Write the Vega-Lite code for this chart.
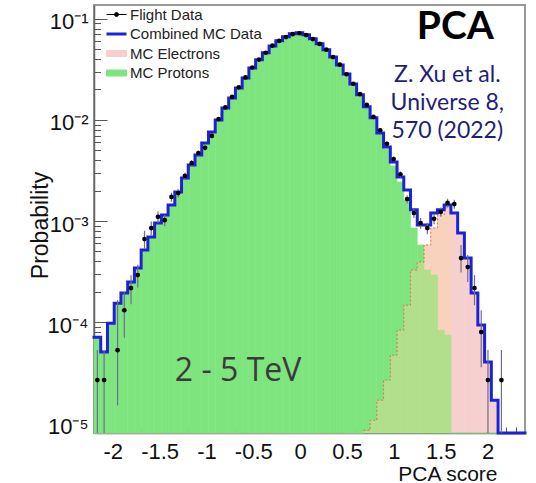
{
  "$schema": "https://vega.github.io/schema/vega-lite/v6.json",
  "width": 431,
  "height": 428,
  "autosize": "none",
  "padding": {"left": 94, "top": 5, "right": 11, "bottom": 50},
  "background": "white",
  "config": {
    "view": {"stroke": "#999999", "strokeWidth": 2},
    "axis": {"grid": false}
  },
  "datasets": {
    "bins": [
      {"lo": -2.2, "hi": -2.128125, "p": 7.10e-5, "e": 0, "mc": 7.10e-5},
      {"lo": -2.128125, "hi": -2.05625, "p": 5.05e-5, "e": 0, "mc": 5.05e-5},
      {"lo": -2.05625, "hi": -1.984375, "p": 9.77e-5, "e": 0, "mc": 9.77e-5},
      {"lo": -1.984375, "hi": -1.9125, "p": 1.54e-4, "e": 0, "mc": 1.54e-4},
      {"lo": -1.9125, "hi": -1.840625, "p": 1.94e-4, "e": 0, "mc": 1.94e-4},
      {"lo": -1.840625, "hi": -1.76875, "p": 2.49e-4, "e": 0, "mc": 2.49e-4},
      {"lo": -1.76875, "hi": -1.696875, "p": 3.42e-4, "e": 0, "mc": 3.42e-4},
      {"lo": -1.696875, "hi": -1.625, "p": 5.16e-4, "e": 0, "mc": 5.16e-4},
      {"lo": -1.625, "hi": -1.553125, "p": 6.94e-4, "e": 0, "mc": 6.94e-4},
      {"lo": -1.553125, "hi": -1.48125, "p": 9.55e-4, "e": 0, "mc": 9.55e-4},
      {"lo": -1.48125, "hi": -1.409375, "p": 1.15e-3, "e": 0, "mc": 1.15e-3},
      {"lo": -1.409375, "hi": -1.3375, "p": 1.44e-3, "e": 0, "mc": 1.44e-3},
      {"lo": -1.3375, "hi": -1.265625, "p": 1.94e-3, "e": 0, "mc": 1.94e-3},
      {"lo": -1.265625, "hi": -1.19375, "p": 2.66e-3, "e": 0, "mc": 2.66e-3},
      {"lo": -1.19375, "hi": -1.121875, "p": 3.58e-3, "e": 0, "mc": 3.58e-3},
      {"lo": -1.121875, "hi": -1.05, "p": 4.50e-3, "e": 0, "mc": 4.50e-3},
      {"lo": -1.05, "hi": -0.978125, "p": 5.92e-3, "e": 0, "mc": 5.92e-3},
      {"lo": -0.978125, "hi": -0.90625, "p": 7.61e-3, "e": 0, "mc": 7.61e-3},
      {"lo": -0.90625, "hi": -0.834375, "p": 1.00e-2, "e": 0, "mc": 1.00e-2},
      {"lo": -0.834375, "hi": -0.7625, "p": 1.31e-2, "e": 0, "mc": 1.31e-2},
      {"lo": -0.7625, "hi": -0.690625, "p": 1.65e-2, "e": 0, "mc": 1.65e-2},
      {"lo": -0.690625, "hi": -0.61875, "p": 2.07e-2, "e": 0, "mc": 2.07e-2},
      {"lo": -0.61875, "hi": -0.546875, "p": 2.60e-2, "e": 0, "mc": 2.60e-2},
      {"lo": -0.546875, "hi": -0.475, "p": 3.27e-2, "e": 0, "mc": 3.27e-2},
      {"lo": -0.475, "hi": -0.403125, "p": 3.93e-2, "e": 0, "mc": 3.93e-2},
      {"lo": -0.403125, "hi": -0.33125, "p": 4.61e-2, "e": 0, "mc": 4.61e-2},
      {"lo": -0.33125, "hi": -0.259375, "p": 5.40e-2, "e": 0, "mc": 5.40e-2},
      {"lo": -0.259375, "hi": -0.1875, "p": 6.06e-2, "e": 0, "mc": 6.06e-2},
      {"lo": -0.1875, "hi": -0.115625, "p": 6.63e-2, "e": 0, "mc": 6.63e-2},
      {"lo": -0.115625, "hi": -0.04375, "p": 7.10e-2, "e": 0, "mc": 7.10e-2},
      {"lo": -0.04375, "hi": 0.028125, "p": 7.27e-2, "e": 0, "mc": 7.27e-2},
      {"lo": 0.028125, "hi": 0.1, "p": 6.94e-2, "e": 0, "mc": 6.94e-2},
      {"lo": 0.1, "hi": 0.171875, "p": 6.34e-2, "e": 0, "mc": 6.34e-2},
      {"lo": 0.171875, "hi": 0.24375, "p": 5.66e-2, "e": 0, "mc": 5.66e-2},
      {"lo": 0.24375, "hi": 0.315625, "p": 4.93e-2, "e": 0, "mc": 4.93e-2},
      {"lo": 0.315625, "hi": 0.3875, "p": 4.20e-2, "e": 0, "mc": 4.20e-2},
      {"lo": 0.3875, "hi": 0.459375, "p": 3.50e-2, "e": 0, "mc": 3.50e-2},
      {"lo": 0.459375, "hi": 0.53125, "p": 2.85e-2, "e": 0, "mc": 2.85e-2},
      {"lo": 0.53125, "hi": 0.603125, "p": 2.27e-2, "e": 0, "mc": 2.27e-2},
      {"lo": 0.603125, "hi": 0.675, "p": 1.77e-2, "e": 0, "mc": 1.77e-2},
      {"lo": 0.675, "hi": 0.746875, "p": 1.35e-2, "e": 8.5e-6, "mc": 1.35e-2},
      {"lo": 0.746875, "hi": 0.81875, "p": 1.05e-2, "e": 1.07e-5, "mc": 1.05e-2},
      {"lo": 0.81875, "hi": 0.890625, "p": 7.30e-3, "e": 1.69e-5, "mc": 7.44e-3},
      {"lo": 0.890625, "hi": 0.9625, "p": 5.16e-3, "e": 2.67e-5, "mc": 5.40e-3},
      {"lo": 0.9625, "hi": 1.034375, "p": 3.50e-3, "e": 4.71e-5, "mc": 3.84e-3},
      {"lo": 1.034375, "hi": 1.10625, "p": 2.43e-3, "e": 8.33e-5, "mc": 2.73e-3},
      {"lo": 1.10625, "hi": 1.178125, "p": 1.61e-3, "e": 1.47e-4, "mc": 2.03e-3},
      {"lo": 1.178125, "hi": 1.25, "p": 8.52e-4, "e": 3.27e-4, "mc": 1.29e-3},
      {"lo": 1.25, "hi": 1.321875, "p": 5.79e-4, "e": 3.93e-4, "mc": 9.13e-4},
      {"lo": 1.321875, "hi": 1.39375, "p": 3.27e-4, "e": 5.79e-4, "mc": 9.13e-4},
      {"lo": 1.39375, "hi": 1.465625, "p": 2.92e-4, "e": 8.52e-4, "mc": 1.20e-3},
      {"lo": 1.465625, "hi": 1.5375, "p": 8.33e-5, "e": 1.15e-3, "mc": 1.29e-3},
      {"lo": 1.5375, "hi": 1.609375, "p": 7.44e-5, "e": 1.35e-3, "mc": 1.44e-3},
      {"lo": 1.609375, "hi": 1.68125, "p": 0, "e": 1.20e-3, "mc": 1.20e-3},
      {"lo": 1.68125, "hi": 1.753125, "p": 0, "e": 7.61e-4, "mc": 7.61e-4},
      {"lo": 1.753125, "hi": 1.825, "p": 0, "e": 4.30e-4, "mc": 4.30e-4},
      {"lo": 1.825, "hi": 1.896875, "p": 0, "e": 1.94e-4, "mc": 1.94e-4},
      {"lo": 1.896875, "hi": 1.96875, "p": 0, "e": 9.34e-5, "mc": 9.34e-5},
      {"lo": 1.96875, "hi": 2.040625, "p": 0, "e": 4.02e-5, "mc": 4.02e-5},
      {"lo": 2.040625, "hi": 2.1125, "p": 0, "e": 1.69e-5, "mc": 1.69e-5},
      {"lo": 2.1125, "hi": 2.184375, "p": 0, "e": 0, "mc": 0},
      {"lo": 2.184375, "hi": 2.25625, "p": 0, "e": 0, "mc": 0},
      {"lo": 2.25625, "hi": 2.328125, "p": 0, "e": 0, "mc": 0},
      {"lo": 2.328125, "hi": 2.4, "p": 0, "e": 0, "mc": 0}
    ],
    "flight": [
      {"score": -2.1641, "prob": 2.67e-5, "err_lo": 5e-6, "err_hi": 5.3e-5},
      {"score": -2.0922, "prob": 2.67e-5, "err_lo": 5e-6, "err_hi": 5.3e-5},
      {"score": -1.9484, "prob": 5.28e-5, "err_lo": 1.5e-5, "err_hi": 1.65e-4},
      {"score": -1.8766, "prob": 1.31e-4, "err_lo": 7.0e-5, "err_hi": 2.0e-4},
      {"score": -1.8047, "prob": 2.17e-4, "err_lo": 1.5e-4, "err_hi": 2.9e-4},
      {"score": -1.7328, "prob": 2.92e-4, "err_lo": 2.2e-4, "err_hi": 3.7e-4},
      {"score": -1.6609, "prob": 6.63e-4, "err_lo": 5.3e-4, "err_hi": 8.0e-4},
      {"score": -1.5891, "prob": 8.52e-4, "err_lo": 7.2e-4, "err_hi": 9.9e-4},
      {"score": -1.5172, "prob": 1.10e-3, "err_lo": 9.6e-4, "err_hi": 1.24e-3},
      {"score": -1.4453, "prob": 1.02e-3, "err_lo": 8.9e-4, "err_hi": 1.15e-3},
      {"score": -1.3734, "prob": 1.73e-3, "err_lo": 1.55e-3, "err_hi": 1.91e-3},
      {"score": -1.3016, "prob": 1.89e-3, "err_lo": 1.71e-3, "err_hi": 2.07e-3},
      {"score": -1.2297, "prob": 2.80e-3, "err_lo": 2.59e-3, "err_hi": 3.01e-3},
      {"score": -1.1578, "prob": 3.75e-3, "err_lo": 3.51e-3, "err_hi": 3.99e-3},
      {"score": -1.0859, "prob": 4.71e-3, "err_lo": 4.44e-3, "err_hi": 4.98e-3},
      {"score": -1.0141, "prob": 5.30e-3, "err_lo": 5.01e-3, "err_hi": 5.59e-3},
      {"score": -0.9422, "prob": 6.95e-3, "err_lo": 6.62e-3, "err_hi": 7.28e-3},
      {"score": -0.8703, "prob": 1.02e-2, "err_lo": 9.8e-3, "err_hi": 1.06e-2},
      {"score": -0.7984, "prob": 1.33e-2, "err_lo": 1.28e-2, "err_hi": 1.38e-2},
      {"score": -0.7266, "prob": 1.69e-2, "err_lo": 1.64e-2, "err_hi": 1.74e-2},
      {"score": -0.6547, "prob": 2.10e-2, "err_lo": 2.05e-2, "err_hi": 2.15e-2},
      {"score": -0.5828, "prob": 2.63e-2, "err_lo": 2.57e-2, "err_hi": 2.69e-2},
      {"score": -0.5109, "prob": 3.30e-2, "err_lo": 3.23e-2, "err_hi": 3.37e-2},
      {"score": -0.4391, "prob": 3.95e-2, "err_lo": 3.88e-2, "err_hi": 4.02e-2},
      {"score": -0.3672, "prob": 4.62e-2, "err_lo": 4.54e-2, "err_hi": 4.70e-2},
      {"score": -0.2953, "prob": 5.42e-2, "err_lo": 5.33e-2, "err_hi": 5.51e-2},
      {"score": -0.2234, "prob": 6.05e-2, "err_lo": 5.96e-2, "err_hi": 6.14e-2},
      {"score": -0.1516, "prob": 6.60e-2, "err_lo": 6.50e-2, "err_hi": 6.70e-2},
      {"score": -0.0797, "prob": 7.05e-2, "err_lo": 6.95e-2, "err_hi": 7.15e-2},
      {"score": -0.0078, "prob": 7.20e-2, "err_lo": 7.10e-2, "err_hi": 7.30e-2},
      {"score": 0.0641, "prob": 6.90e-2, "err_lo": 6.80e-2, "err_hi": 7.00e-2},
      {"score": 0.1359, "prob": 6.30e-2, "err_lo": 6.20e-2, "err_hi": 6.40e-2},
      {"score": 0.2078, "prob": 5.65e-2, "err_lo": 5.56e-2, "err_hi": 5.74e-2},
      {"score": 0.2797, "prob": 4.95e-2, "err_lo": 4.87e-2, "err_hi": 5.03e-2},
      {"score": 0.3516, "prob": 4.18e-2, "err_lo": 4.11e-2, "err_hi": 4.25e-2},
      {"score": 0.4234, "prob": 3.52e-2, "err_lo": 3.45e-2, "err_hi": 3.59e-2},
      {"score": 0.4953, "prob": 2.83e-2, "err_lo": 2.77e-2, "err_hi": 2.89e-2},
      {"score": 0.5672, "prob": 2.28e-2, "err_lo": 2.22e-2, "err_hi": 2.34e-2},
      {"score": 0.6391, "prob": 1.80e-2, "err_lo": 1.75e-2, "err_hi": 1.85e-2},
      {"score": 0.7109, "prob": 1.41e-2, "err_lo": 1.36e-2, "err_hi": 1.46e-2},
      {"score": 0.7828, "prob": 1.07e-2, "err_lo": 1.03e-2, "err_hi": 1.11e-2},
      {"score": 0.8547, "prob": 7.9e-3, "err_lo": 7.5e-3, "err_hi": 8.3e-3},
      {"score": 0.9266, "prob": 5.8e-3, "err_lo": 5.5e-3, "err_hi": 6.1e-3},
      {"score": 0.9984, "prob": 4.1e-3, "err_lo": 3.85e-3, "err_hi": 4.35e-3},
      {"score": 1.0703, "prob": 2.9e-3, "err_lo": 2.7e-3, "err_hi": 3.1e-3},
      {"score": 1.1422, "prob": 1.65e-3, "err_lo": 1.50e-3, "err_hi": 1.80e-3},
      {"score": 1.2141, "prob": 1.20e-3, "err_lo": 1.07e-3, "err_hi": 1.33e-3},
      {"score": 1.2859, "prob": 9.55e-4, "err_lo": 8.4e-4, "err_hi": 1.07e-3},
      {"score": 1.3578, "prob": 8.52e-4, "err_lo": 7.4e-4, "err_hi": 9.6e-4},
      {"score": 1.4297, "prob": 1.05e-3, "err_lo": 9.3e-4, "err_hi": 1.17e-3},
      {"score": 1.5016, "prob": 1.23e-3, "err_lo": 1.10e-3, "err_hi": 1.36e-3},
      {"score": 1.5734, "prob": 1.51e-3, "err_lo": 1.36e-3, "err_hi": 1.66e-3},
      {"score": 1.6453, "prob": 1.47e-3, "err_lo": 1.32e-3, "err_hi": 1.62e-3},
      {"score": 1.7172, "prob": 4.30e-4, "err_lo": 3.1e-4, "err_hi": 5.8e-4},
      {"score": 1.7891, "prob": 3.50e-4, "err_lo": 2.5e-4, "err_hi": 4.6e-4},
      {"score": 1.8609, "prob": 2.17e-4, "err_lo": 1.47e-4, "err_hi": 2.92e-4},
      {"score": 1.9328, "prob": 7.96e-5, "err_lo": 3.58e-5, "err_hi": 1.31e-4},
      {"score": 2.0047, "prob": 2.67e-5, "err_lo": 4e-6, "err_hi": 5.3e-5},
      {"score": 2.1484, "prob": 2.67e-5, "err_lo": 4e-6, "err_hi": 5.3e-5}
    ]
  },
  "resolve": {"axis": {"x": "independent", "y": "independent"}},
  "layer": [
    {
      "data": {"name": "bins"},
      "mark": {"type": "rect", "strokeWidth": 0.6},
      "encoding": {
        "x": {"field": "lo", "type": "quantitative", "axis": null},
        "x2": {"field": "hi"},
        "y": {"field": "e", "type": "quantitative", "axis": null},
        "y2": {"datum": 8e-6},
        "color": {"datum": "MC Electrons", "type": "nominal"},
        "stroke": {"value": "#f6cfcf"}
      }
    },
    {
      "data": {"name": "bins"},
      "mark": {"type": "rect", "strokeWidth": 0.6},
      "encoding": {
        "x": {
          "field": "lo", "type": "quantitative",
          "scale": {"domain": [-2.2, 2.4], "nice": false, "zero": false},
          "axis": {
            "orient": "bottom",
            "values": [-2, -1.5, -1, -0.5, 0, 0.5, 1, 1.5, 2],
            "labelExpr": "datum.value < 0 ? '-' + format(-datum.value, '~g') : format(datum.value, '~g')",
            "tickSize": -12, "tickColor": "#555555", "tickWidth": 1,
            "domainColor": "#666666", "domainWidth": 1.5,
            "labelPadding": 20, "labelFont": "Liberation Sans", "labelFontSize": 22,
            "labelColor": "#111111", "labelOverlap": false, "labelFlush": false, "labelBound": false,
            "title": "PCA score", "titleFont": "Liberation Sans", "titleFontSize": 21,
            "titleFontWeight": "normal", "titleColor": "#111111",
            "titleX": 403, "titleY": 41, "titleAlign": "right", "titleBaseline": "middle", "titleAngle": 0
          }
        },
        "x2": {"field": "hi"},
        "y": {
          "field": "p", "type": "quantitative",
          "scale": {"type": "log", "domain": [8e-6, 0.137], "nice": false, "clamp": true},
          "axis": {
            "orient": "left",
            "values": [1e-5, 1e-4, 1e-3, 1e-2, 1e-1],
            "labelExpr": "'10⁻' + ['⁰','¹','²','³','⁴','⁵'][round(-log(datum.value) / LN10)]",
            "tickSize": -13, "tickColor": "#555555", "tickWidth": 1,
            "domainColor": "#666666", "domainWidth": 1.5,
            "labelPadding": 19, "labelOffset": 3, "labelFont": "Liberation Sans", "labelFontSize": 22,
            "labelColor": "#111111", "labelOverlap": false, "labelBound": false,
            "title": "Probability", "titleFont": "Liberation Sans", "titleFontSize": 23,
            "titleFontWeight": "normal", "titleColor": "#111111",
            "titleX": -54, "titleY": 220, "titleAngle": -90, "titleAlign": "center", "titleBaseline": "middle"
          }
        },
        "y2": {"datum": 8e-6},
        "color": {"datum": "MC Protons", "type": "nominal"},
        "stroke": {"value": "#7ee57e"}
      }
    },
    {
      "data": {"name": "bins"},
      "transform": [{"filter": "datum.p > 0 && datum.e > 0"}],
      "mark": {"type": "rect", "strokeWidth": 0, "fill": "#ffd8a0", "opacity": 0.4},
      "encoding": {
        "x": {"field": "lo", "type": "quantitative", "axis": null},
        "x2": {"field": "hi"},
        "y": {"field": "e", "type": "quantitative", "axis": null},
        "y2": {"datum": 8e-6}
      }
    },
    {
      "data": {"name": "bins"},
      "transform": [
        {"filter": "datum.e > 0"},
        {"fold": ["lo", "hi"], "as": ["edge_kind", "edge"]}
      ],
      "mark": {"type": "line", "stroke": "#e0704a", "strokeWidth": 1, "strokeDash": [2, 2]},
      "encoding": {
        "x": {"field": "edge", "type": "quantitative", "axis": null},
        "y": {"field": "e", "type": "quantitative", "axis": null},
        "order": [{"field": "edge", "type": "quantitative"}, {"field": "edge_kind", "type": "nominal"}]
      }
    },
    {
      "data": {"name": "bins"},
      "transform": [{"fold": ["lo", "hi"], "as": ["edge_kind", "edge"]}],
      "mark": {"type": "line", "strokeWidth": 3, "strokeJoin": "miter", "strokeCap": "square"},
      "encoding": {
        "x": {"field": "edge", "type": "quantitative", "axis": null},
        "y": {"field": "mc", "type": "quantitative", "axis": null},
        "order": [{"field": "edge", "type": "quantitative"}, {"field": "edge_kind", "type": "nominal"}],
        "color": {
          "datum": "Combined MC Data", "type": "nominal",
          "scale": {
            "domain": ["Flight Data", "Combined MC Data", "MC Electrons", "MC Protons"],
            "range": ["#000000", "#1c22d6", "#f6cfcf", "#7ee57e"]
          },
          "legend": {
            "orient": "none", "legendX": 15, "legendY": 2, "title": null, "padding": 0,
            "labelFont": "Liberation Sans", "labelFontSize": 15, "labelColor": "#222222",
            "labelOffset": 6, "symbolSize": 100, "rowPadding": 3.5,
            "encode": {
              "symbols": {
                "update": {
                  "shape": {"signal": "datum.value == 'MC Electrons' || datum.value == 'MC Protons' ? 'M-2,-0.6H2V0.6H-2Z' : datum.value == 'Flight Data' ? 'M-2,0H2M-0.4,0A0.4,0.4 0 1,0 0.4,0A0.4,0.4 0 1,0 -0.4,0Z' : 'M-2,0H2'"},
                  "fill": {"signal": "datum.value == 'MC Electrons' ? '#f6cfcf' : datum.value == 'MC Protons' ? '#7ee57e' : datum.value == 'Flight Data' ? '#000000' : 'transparent'"},
                  "stroke": {"signal": "datum.value == 'MC Electrons' ? '#e58c8c' : datum.value == 'MC Protons' ? '#45c845' : datum.value == 'Flight Data' ? '#000000' : '#1c22d6'"},
                  "strokeWidth": {"signal": "datum.value == 'Combined MC Data' ? 3 : 1"},
                  "opacity": {"value": 1}
                }
              }
            }
          }
        }
      }
    },
    {
      "data": {"name": "flight"},
      "mark": {"type": "rule", "color": "#6b7090", "strokeWidth": 1.2},
      "encoding": {
        "x": {"field": "score", "type": "quantitative", "axis": null},
        "y": {"field": "err_lo", "type": "quantitative", "axis": null},
        "y2": {"field": "err_hi"}
      }
    },
    {
      "data": {"name": "flight"},
      "mark": {"type": "point", "filled": true, "size": 22, "opacity": 1},
      "encoding": {
        "x": {
          "field": "score", "type": "quantitative",
          "axis": {
            "orient": "bottom",
            "values": [-2.1, -1.9, -1.8, -1.7, -1.6, -1.4, -1.3, -1.2, -1.1, -0.9, -0.8, -0.7, -0.6, -0.4, -0.3, -0.2, -0.1, 0.1, 0.2, 0.3, 0.4, 0.6, 0.7, 0.8, 0.9, 1.1, 1.2, 1.3, 1.4, 1.6, 1.7, 1.8, 1.9, 2.1, 2.2, 2.3],
            "tickSize": -6, "tickColor": "#555555", "tickWidth": 1,
            "labels": false, "domain": false, "title": null
          }
        },
        "y": {
          "field": "prob", "type": "quantitative",
          "axis": {
            "orient": "left",
            "values": [2e-5, 3e-5, 4e-5, 5e-5, 6e-5, 7e-5, 8e-5, 9e-5, 2e-4, 3e-4, 4e-4, 5e-4, 6e-4, 7e-4, 8e-4, 9e-4, 2e-3, 3e-3, 4e-3, 5e-3, 6e-3, 7e-3, 8e-3, 9e-3, 2e-2, 3e-2, 4e-2, 5e-2, 6e-2, 7e-2, 8e-2, 9e-2],
            "tickSize": -6.5, "tickColor": "#555555", "tickWidth": 1,
            "labels": false, "domain": false, "title": null
          }
        },
        "color": {"datum": "Flight Data", "type": "nominal"}
      }
    },
    {
      "data": {"values": [{}]},
      "mark": {"type": "text", "font": "Lato", "fontSize": 39, "fontWeight": "bold", "color": "#000000", "align": "center", "baseline": "middle"},
      "encoding": {
        "x": {"datum": 1.657, "type": "quantitative", "axis": null},
        "y": {"datum": 0.0833, "type": "quantitative", "axis": null},
        "text": {"value": "PCA"}
      }
    },
    {
      "data": {"values": [{}]},
      "mark": {"type": "text", "font": "Lato", "fontSize": 23, "color": "#1f1f78", "align": "center", "baseline": "middle", "lineHeight": 28},
      "encoding": {
        "x": {"datum": 1.571, "type": "quantitative", "axis": null},
        "y": {"datum": 0.0279, "type": "quantitative", "axis": null},
        "text": {"value": ["Z. Xu et al.", "Universe 8,", "570 (2022)"]}
      }
    },
    {
      "data": {"values": [{}]},
      "mark": {"type": "text", "font": "Open Sans", "fontSize": 32, "color": "#3b3b3b", "align": "center", "baseline": "middle"},
      "encoding": {
        "x": {"datum": -0.662, "type": "quantitative", "axis": null},
        "y": {"datum": 3.27e-5, "type": "quantitative", "axis": null},
        "text": {"value": "2 - 5 TeV"}
      }
    }
  ]
}
